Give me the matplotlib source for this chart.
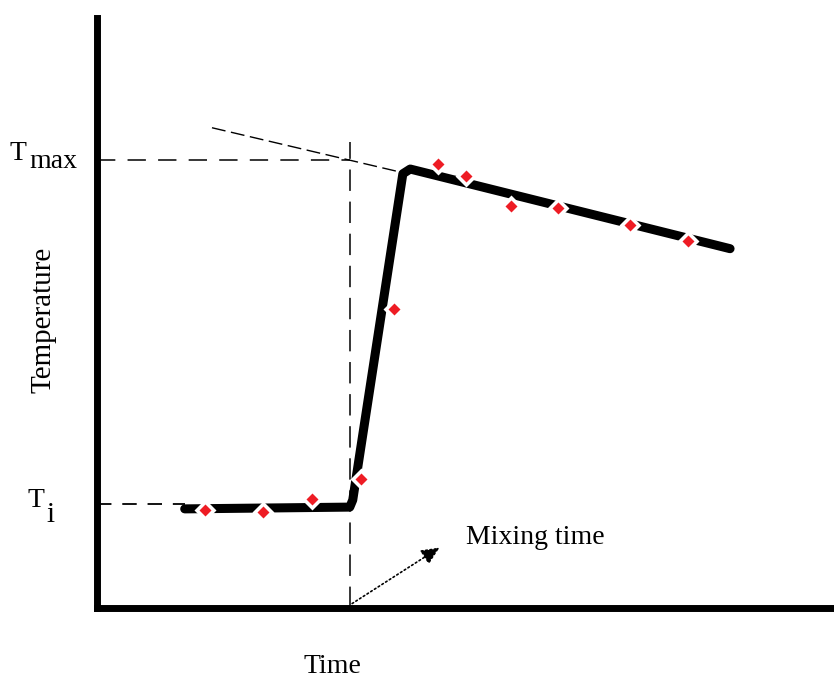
import matplotlib
matplotlib.use("Agg")
import matplotlib.pyplot as plt

# ---- data (arbitrary units: time 0-100, temperature 0-100) ----
curve_t = [11.9, 34.3, 34.7, 41.5, 42.5, 85.9]
curve_T = [16.8, 17.1, 18.3, 73.6, 74.4, 60.9]

pts_t = [14.65, 22.5, 29.2, 35.8, 40.3, 46.3, 50.1, 56.2, 62.5, 72.3, 80.2]
pts_T = [16.6, 16.3, 18.5, 21.9, 50.7, 75.3, 73.2, 68.1, 67.8, 64.9, 62.2]

T_i = 17.6
T_max = 75.9
t_mix = 34.3
tangent_t = [15.6, 41.1]
tangent_T = [81.4, 73.9]

serif = ["Liberation Serif", "DejaVu Serif"]
fs = 20

fig = plt.figure(figsize=(8.34, 6.78), dpi=100)
ax = fig.add_axes([97 / 834, 70 / 678, 737 / 834, 590 / 678])
ax.set_xlim(0, 100)
ax.set_ylim(0, 100)
ax.set_xticks([])
ax.set_yticks([])
for s in ["top", "right"]:
    ax.spines[s].set_visible(False)
for s in ["left", "bottom"]:
    ax.spines[s].set_linewidth(5)
    ax.spines[s].set_color("black")

# reference lines
ax.plot([0, curve_t[0]], [T_i, T_i], color="black", lw=1.3, ls=(0, (8, 6)))
ax.plot([0, t_mix], [T_max, T_max], color="black", lw=1.1, ls=(0, (12, 8)))
ax.plot([t_mix, t_mix], [0, 79.0], color="black", lw=1.1, ls=(0, (14, 7)))
ax.plot(tangent_t, tangent_T, color="black", lw=1.0, ls=(0, (10, 4)))

# main curve
ax.plot(curve_t, curve_T, color="black", lw=6.5, solid_joinstyle="round",
        solid_capstyle="round", zorder=3)

# measured points (white halo breaks the curve, as in the original)
ax.plot(pts_t, pts_T, ls="none", marker="D", ms=11, mfc="white",
        mec="none", zorder=4)
ax.plot(pts_t, pts_T, ls="none", marker="D", ms=6.5, mfc="#ee1c24",
        mec="none", zorder=5)

# mixing time arrow
ax.annotate("", xy=(46.8, 10.5), xytext=(t_mix, 0.5),
            arrowprops=dict(arrowstyle="-|>,head_length=1.1,head_width=0.5",
                            color="black", lw=1.2, ls=":"),
            annotation_clip=False)
ax.text(50.1, 12.0, "Mixing time", family=serif, fontsize=fs, va="center", ha="left")

# labels
ax.text(-11.9, 75.9, "T", family=serif, fontsize=fs, va="baseline", ha="left", clip_on=False)
ax.text(-9.2, 74.6, "max", family=serif, fontsize=fs, va="baseline", ha="left", clip_on=False)
ax.text(-9.4, 17.1, "T", family=serif, fontsize=fs, va="baseline", ha="left", clip_on=False)
ax.text(-6.8, 14.6, "i", family=serif, fontsize=fs + 1, va="baseline", ha="left", clip_on=False)

ax.text(32.0, -11.0, "Time", family=serif, fontsize=fs, va="baseline", ha="center", clip_on=False)
ax.text(-7.3, 48.8, "Temperature", family=serif, fontsize=fs + 1, va="center", ha="center",
        rotation=90, clip_on=False)

fig.savefig("out.png", dpi=100)
